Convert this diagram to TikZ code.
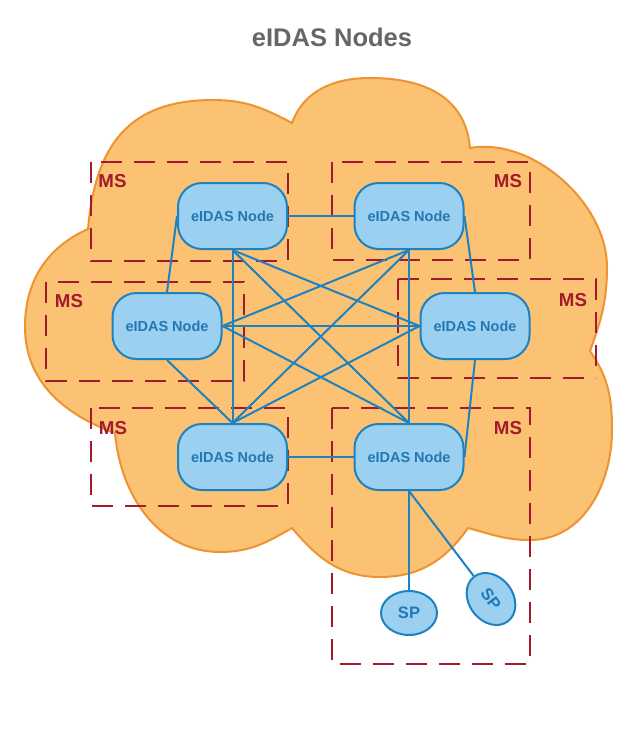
\documentclass[tikz,border=0pt]{standalone}
\usepackage{fontspec}
\setmainfont{Liberation Sans}
\usepackage{tikz}
\usetikzlibrary{shapes.geometric}

\definecolor{cloudfill}{HTML}{FBC273}
\definecolor{cloudline}{HTML}{EE9330}
\definecolor{msred}{HTML}{A3192E}
\definecolor{nodefill}{HTML}{9BD0F1}
\definecolor{nodeline}{HTML}{1D82C0}
\definecolor{nodetext}{HTML}{2079B5}
\definecolor{titlegray}{HTML}{666666}

\begin{document}
\begin{tikzpicture}[x=1pt,y=1pt,
  eidas/.style={rectangle,rounded corners=24pt,draw=nodeline,line width=2pt,fill=nodefill,text=nodetext,minimum width=109pt,minimum height=66pt,inner sep=0pt,font=\fontsize{14.5}{16}\selectfont\bfseries},
  sp/.style={ellipse,draw=nodeline,line width=2pt,fill=nodefill,text=nodetext,minimum width=56pt,minimum height=44pt,inner sep=0pt,font=\fontsize{16.5}{18}\selectfont\bfseries},
  link/.style={draw=nodeline,line width=2pt},
  msbox/.style={draw=msred,line width=2.5pt,dash pattern=on 21pt off 12pt},
  msthin/.style={draw=msred,line width=1.2pt,dash pattern=on 21pt off 12pt},
  mslabel/.style={text=msred,inner sep=0pt,font=\fontsize{18.7}{20}\selectfont\bfseries}]
\useasboundingbox (0,0) rectangle (628,-750);

\node[text=titlegray,inner sep=0pt,font=\fontsize{25.5}{27}\selectfont\bfseries] (title) at (332,-37) {eIDAS Nodes};

% cloud
\draw[fill=cloudfill,draw=cloudline,line width=2pt]
  (88,-229) to[out=85,in=180,looseness=1.2] (213,-100)
  to[out=0,in=152] (292,-123)
  to[out=70,in=180] (370,-78)
  to[out=0,in=95,looseness=1.1] (470,-148)
  to[out=10,in=90,looseness=0.9] (607,-267)
  to[out=-90,in=70] (590,-351)
  to[out=-55,in=90] (612,-430)
  to[out=-90,in=0] (530,-540)
  to[out=180,in=-15] (468,-528)
  to[out=-125,in=0] (380,-577)
  to[out=180,in=-50] (292,-528)
  to[out=-150,in=0] (220,-552)
  to[out=180,in=-85] (115,-433)
  to[out=160,in=-90] (25,-327)
  to[out=90,in=204] (88,-229) -- cycle;

% member states
\draw[msbox] (91,-162) rectangle (288,-261);
\draw[msbox] (332,-162) rectangle (530,-260);
\draw[msbox] (46,-282) rectangle (244,-381);
\draw[msbox] (398,-279) -- (398,-378) -- (596,-378);
\draw[msthin] (398,-279) -- (596,-279) -- (596,-378);
\draw[msbox] (91,-408) rectangle (288,-506);
\draw[msbox] (332,-408) rectangle (530,-664);

\node[eidas] (n1) at (232.5,-216) {eIDAS Node};
\node[eidas] (n2) at (409,-216) {eIDAS Node};
\node[eidas] (n3) at (167,-326) {eIDAS Node};
\node[eidas] (n4) at (475,-326) {eIDAS Node};
\node[eidas] (n5) at (232.5,-457) {eIDAS Node};
\node[eidas] (n6) at (409,-457) {eIDAS Node};
\node[sp] (sp1) at (409,-613) {SP};
\node[sp,rotate=-53] (sp2) at (491,-599) {SP};

\draw[link] (n1.east) -- (n2.west);
\draw[link] (n5.east) -- (n6.west);
\draw[link] (n1.west) -- (n3.north);
\draw[link] (n2.east) -- (n4.north);
\draw[link] (n3.south) -- (n5.north);
\draw[link] (n4.south) -- (n6.east);
\draw[link] (n1.south) -- (n5.north);
\draw[link] (n1.south) -- (n4.west);
\draw[link] (n1.south) -- (n6.north);
\draw[link] (n2.south) -- (n6.north);
\draw[link] (n2.south) -- (n3.east);
\draw[link] (n2.south) -- (n5.north);
\draw[link] (n3.east) -- (n4.west);
\draw[link] (n3.east) -- (n6.north);
\draw[link] (n4.west) -- (n5.north);
\draw[link] (n6.south) -- (sp1.north);
\draw[link] (n6.south) -- (sp2.west);

\node[mslabel] (ms1) at (112.5,-181.5) {MS};
\node[mslabel] (ms2) at (508,-181.5) {MS};
\node[mslabel] (ms3) at (69,-301.5) {MS};
\node[mslabel] (ms4) at (573,-300) {MS};
\node[mslabel] (ms5) at (113,-428) {MS};
\node[mslabel] (ms6) at (508,-428.5) {MS};
\end{tikzpicture}
\end{document}
